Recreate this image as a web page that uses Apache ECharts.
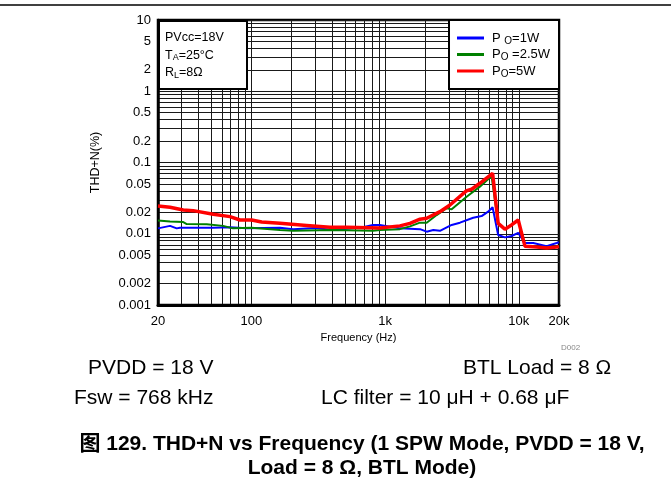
<!DOCTYPE html>
<html><head><meta charset="utf-8">
<script src="https://cdn.jsdelivr.net/npm/echarts@6/dist/echarts.min.js"></script>
<style>html,body{margin:0;padding:0;background:#fff}#c{width:671px;height:498px}</style>
</head><body><div id="c"></div><script>
// ---- data ----
const freq1W = [20, 24.6, 27.6, 29.2, 51.8, 69, 92.1, 163.5, 205.6, 300, 407, 682.5, 811, 914, 1291, 1824, 2047, 2293, 2573, 3148, 3631, 4563, 5271, 5904, 6370, 7015, 7873, 8833, 9910, 11120, 12830, 16160, 19190, 20000];
const thd1W  = [0.0119, 0.0129, 0.0119, 0.0121, 0.0121, 0.0123, 0.0119, 0.0121, 0.0116, 0.0120, 0.0113, 0.0123, 0.0133, 0.0133, 0.0119, 0.0116, 0.0107, 0.0113, 0.0110, 0.0133, 0.0143, 0.0168, 0.0177, 0.0204, 0.0235, 0.0096, 0.0089, 0.0093, 0.0103, 0.0074, 0.0074, 0.0067, 0.0074, 0.0076];

const freq2W5 = [20, 24.6, 30.9, 32.8, 46.3, 61.3, 72.8, 100, 163.5, 205.6, 407, 811, 914, 1291, 1535, 1824, 2047, 2431, 2886, 3148, 4074, 5118, 6262, 7015, 7873, 8833, 9910, 11120, 13610, 16160, 19190, 20000];
const thd2W5  = [0.0153, 0.0148, 0.0146, 0.0137, 0.0136, 0.0129, 0.0119, 0.0121, 0.0113, 0.0110, 0.0113, 0.0110, 0.0113, 0.0116, 0.0127, 0.0143, 0.0143, 0.0183, 0.0228, 0.0220, 0.0331, 0.0458, 0.0646, 0.0140, 0.0116, 0.0133, 0.0156, 0.0068, 0.0066, 0.0064, 0.0066, 0.0067];

const freq5W = [20, 24.6, 30.9, 36.7, 51.8, 69.1, 82.1, 100.4, 119.3, 163.5, 258.8, 386.7, 515, 914, 1291, 1535, 1824, 2047, 2573, 3057, 4074, 4440, 5118, 6370, 7015, 7873, 8833, 9910, 11120, 13610, 16160, 19190, 20000];
const thd5W  = [0.0245, 0.0235, 0.0215, 0.0211, 0.0188, 0.0174, 0.0156, 0.0156, 0.0146, 0.0140, 0.0131, 0.0123, 0.0123, 0.0120, 0.0129, 0.0140, 0.0160, 0.0165, 0.0204, 0.0253, 0.0402, 0.0421, 0.0511, 0.0705, 0.0140, 0.0116, 0.0133, 0.0156, 0.0067, 0.0065, 0.0063, 0.0065, 0.0066];

const seriesNames = ['PO=1W', 'PO=2.5W', 'PO=5W'];
const legendTexts = ['P {s|O}=1W', 'P{s|O} =2.5W', 'P{s|O}=5W'];
const seriesColors = ['#0000ff', '#008000', '#ff0000'];

const xTickValues = [20, 100, 1000, 10000, 20000];
const xTickLabels = ['20', '100', '1k', '10k', '20k'];
const yTickValues = [0.001, 0.002, 0.005, 0.01, 0.02, 0.05, 0.1, 0.2, 0.5, 1, 2, 5, 10];
const yTickLabels = ['0.001', '0.002', '0.005', '0.01', '0.02', '0.05', '0.1', '0.2', '0.5', '1', '2', '5', '10'];
const xGridValues = [20, 30, 40, 50, 60, 70, 80, 90, 100, 200, 300, 400, 500, 600, 700, 800, 900, 1000, 2000, 3000, 4000, 5000, 6000, 7000, 8000, 9000, 10000, 20000];
const yGridValues = [0.001, 0.002, 0.003, 0.004, 0.005, 0.006, 0.007, 0.008, 0.009, 0.01, 0.02, 0.03, 0.04, 0.05, 0.06, 0.07, 0.08, 0.09, 0.1, 0.2, 0.3, 0.4, 0.5, 0.6, 0.7, 0.8, 0.9, 1, 2, 3, 4, 5, 6, 7, 8, 9, 10];

const FONT = '"Liberation Sans", Arial, "Noto Sans CJK SC", sans-serif';

function labelFor(values, labels, v) {
  let best = 0, bd = Infinity;
  values.forEach((t, i) => { const d = Math.abs(Math.log10(t) - Math.log10(v)); if (d < bd) { bd = d; best = i; } });
  return labels[best];
}

const dataSets = [[freq1W, thd1W], [freq2W5, thd2W5], [freq5W, thd5W]];
const widths = [2, 2, 3.5];

const chart = echarts.init(document.getElementById('c'), null, { renderer: 'canvas' });
chart.setOption({
  animation: false,
  backgroundColor: '#fff',
  textStyle: { fontFamily: FONT },
  grid: { left: 158, right: 112, top: 20, bottom: 193, show: true, borderColor: '#000', borderWidth: 2.5, backgroundColor: 'transparent' },
  xAxis: {
    type: 'log', logBase: 10, min: 20, max: 20000,
    name: 'Frequency (Hz)', nameLocation: 'middle', nameGap: 27,
    nameTextStyle: { fontSize: 11, color: '#000', fontFamily: FONT },
    axisLine: { show: true, lineStyle: { color: '#000', width: 3 } },
    axisTick: { show: false, customValues: xGridValues },
    axisLabel: { customValues: xTickValues, margin: 10, fontSize: 13, color: '#000', fontFamily: FONT,
      formatter: v => labelFor(xTickValues, xTickLabels, v) },
    splitLine: { show: true, lineStyle: { color: '#1a1a1a', width: 1 } },
    minorTick: { show: false }, minorSplitLine: { show: false }
  },
  yAxis: {
    type: 'log', logBase: 10, min: 0.001, max: 10,
    name: 'THD+N(%)', nameLocation: 'middle', nameGap: 56, nameRotate: 90,
    nameTextStyle: { fontSize: 12.5, color: '#000', fontFamily: FONT },
    axisLine: { show: true, lineStyle: { color: '#000', width: 2.5 } },
    axisTick: { show: false, customValues: yGridValues },
    axisLabel: { customValues: yTickValues, margin: 7, fontSize: 13, color: '#000', fontFamily: FONT,
      formatter: v => labelFor(yTickValues, yTickLabels, v) },
    splitLine: { show: true, lineStyle: { color: '#1a1a1a', width: 1 } }
  },
  legend: {
    orient: 'vertical', right: 112, top: 20,
    data: seriesNames,
    backgroundColor: '#fff', borderColor: '#000', borderWidth: 2,
    padding: [10, 9, 10, 8], itemGap: 0.5, itemWidth: 27, itemHeight: 3,
    icon: 'rect',
    formatter: name => legendTexts[seriesNames.indexOf(name)],
    textStyle: { fontSize: 13, color: '#000', lineHeight: 16, fontFamily: FONT, padding: [0, 0, 0, 3],
      rich: { s: { fontSize: 10, fontFamily: FONT, color: '#000', padding: [6, 0, 0, 0] } } }
  },
  series: dataSets.map((d, i) => ({
    name: seriesNames[i], type: 'line', showSymbol: false, symbol: 'none',
    color: seriesColors[i],
    lineStyle: { color: seriesColors[i], width: widths[i] },
    data: d[0].map((f, k) => [f, d[1][k]]),
    z: 3 + i
  })),
  graphic: [
    { type: 'line', shape: { x1: 0, y1: 5, x2: 671, y2: 5 }, style: { stroke: '#000', lineWidth: 1.5 }, z: 100 },
    { type: 'rect', shape: { x: 159, y: 21, width: 88, height: 68 }, style: { fill: '#fff', stroke: '#000', lineWidth: 2 }, z: 100 },
    { type: 'text', x: 165, y: 29, z: 101, style: {
        text: 'PVcc=18V\nT{s|A}=25°C\nR{s|L}=8Ω', font: '12.5px ' + FONT, fill: '#000', lineHeight: 17.5,
        rich: { s: { fontSize: 9, fontFamily: FONT, fill: '#000', padding: [5, 0, 0, 0] } } } },
    { type: 'text', x: 561, y: 344, z: 101, style: { text: 'D002', font: '8px ' + FONT, fill: '#888' } },
    { type: 'text', x: 88, y: 368, z: 101, style: { text: 'PVDD = 18 V', font: '21px ' + FONT, fill: '#000', verticalAlign: 'middle' } },
    { type: 'text', x: 463, y: 368, z: 101, style: { text: 'BTL Load = 8 Ω', font: '21px ' + FONT, fill: '#000', verticalAlign: 'middle' } },
    { type: 'text', x: 74, y: 398, z: 101, style: { text: 'Fsw = 768 kHz', font: '21px ' + FONT, fill: '#000', verticalAlign: 'middle' } },
    { type: 'text', x: 321, y: 398, z: 101, style: { text: 'LC filter = 10 μH + 0.68 μF', font: '21px ' + FONT, fill: '#000', verticalAlign: 'middle' } },
    { type: 'text', x: 362, y: 444, z: 101, style: { text: '图 129. THD+N vs Frequency (1 SPW Mode, PVDD = 18 V,', font: 'bold 21px ' + FONT, fill: '#000', align: 'center', verticalAlign: 'middle' } },
    { type: 'text', x: 362, y: 468, z: 101, style: { text: 'Load = 8 Ω, BTL Mode)', font: 'bold 21px ' + FONT, fill: '#000', align: 'center', verticalAlign: 'middle' } }
  ]
});
</script></body></html>
